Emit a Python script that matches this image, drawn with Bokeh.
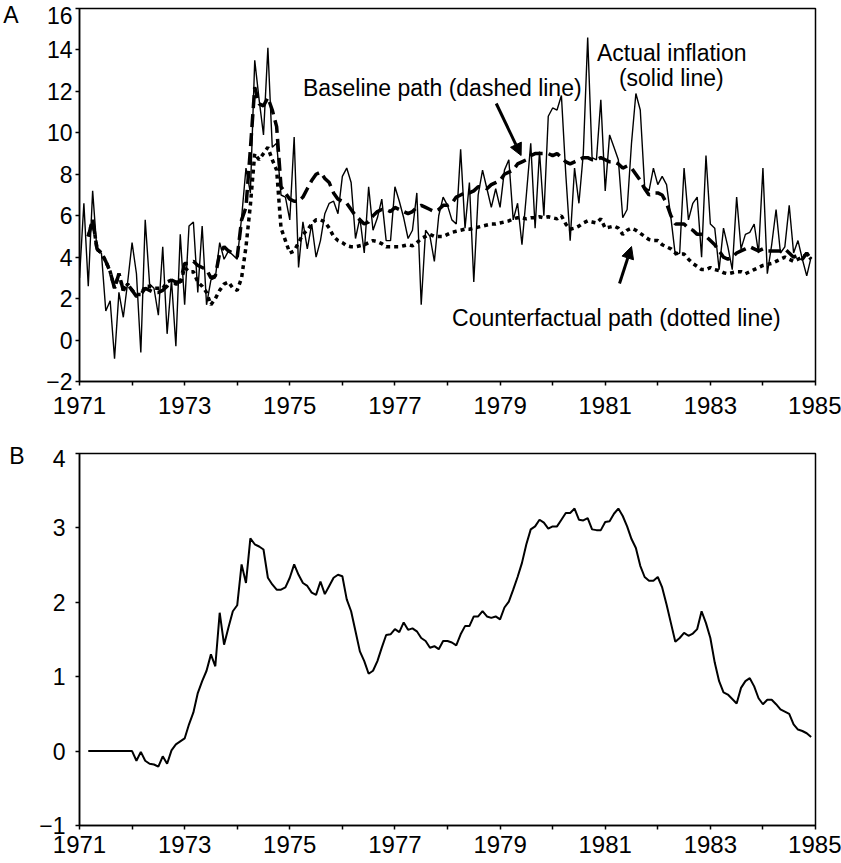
import numpy as np
from bokeh.plotting import figure
from bokeh.layouts import column
from bokeh.models import FixedTicker, Label, Arrow, NormalHead, Range1d, LinearAxis
from bokeh.embed import file_html
from bokeh.resources import INLINE

# ---------------- data (monthly, Jan 1971 - Dec 1984) ----------------
start_year = 1971
actual = [
    3.0, 6.6, 2.6, 7.2, 4.3, 4.2, 1.4, 1.9, -0.9, 2.3, 1.1, 2.8,
    4.7, 3.2, -0.6, 5.8, 2.7, 2.5, 1.2, 4.5, 0.3, 2.9, -0.3, 5.1,
    1.7, 5.5, 5.7, 2.3, 5.5, 1.7, 2.9, 3.0, 4.7, 3.9, 4.3, 4.1,
    3.9, 5.9, 8.3, 7.1, 13.5, 11.6, 9.9, 14.1, 9.3, 9.5, 7.0, 6.9,
    5.8, 9.8, 3.5, 5.7, 4.4, 5.6, 4.0, 4.8, 6.1, 6.6, 6.7, 6.1,
    7.9, 8.3, 7.6, 4.9, 5.9, 4.2, 7.4, 5.3, 5.9, 6.8, 4.8, 4.8,
    7.4, 6.7, 5.9, 4.9, 5.3, 7.1, 1.7, 5.3, 5.0, 3.8, 6.0, 6.9,
    6.5, 5.8, 5.6, 9.2, 5.4, 7.6, 2.8, 7.0, 8.2, 7.3, 6.4, 7.3,
    6.4, 8.2, 8.7, 5.8, 6.6, 4.6, 7.0, 9.5, 5.4, 9.1, 6.0, 10.8,
    11.2, 11.1, 11.8, 8.0, 4.8, 8.3, 6.6, 9.0, 14.6, 8.8, 8.7, 11.6,
    7.2, 9.9, 9.3, 8.7, 5.9, 6.3, 9.5, 11.9, 11.1, 7.4, 7.2, 8.3,
    7.5, 7.9, 7.5, 5.9, 4.1, 4.2, 8.3, 5.8, 6.6, 6.9, 4.0, 8.9,
    5.6, 5.4, 3.4, 5.4, 4.5, 3.4, 6.9, 4.4, 5.1, 5.2, 5.6, 4.2,
    8.3, 3.2, 4.6, 6.3, 4.2, 4.5, 6.5, 4.2, 4.8, 3.9, 3.1, 4.0,
]

# simulated paths start in March 1971 (month index 2)
sim_start = 2
baseline = [
    5.0, 5.8, 4.4, 4.2, 3.8, 3.3, 2.5, 3.2, 2.4, 2.7,
    2.4, 2.1, 2.2, 2.5, 2.4, 2.3, 2.3, 2.4, 2.6, 2.9, 2.8, 2.8,
    3.7, 3.7, 3.8, 3.6, 3.5, 3.4, 3.0, 3.1, 4.2, 4.5, 4.3, 4.2,
    4.0, 5.8, 6.4, 9.2, 12.2, 11.4, 11.3, 11.7, 11.1, 10.3, 7.4, 7.1,
    6.8, 6.7, 6.7, 6.9, 7.3, 7.7, 8.0, 8.1, 7.8, 7.6, 7.1, 6.8,
    6.7, 6.6, 6.3, 6.0, 5.8, 5.6, 5.7, 6.0, 6.2, 6.3, 6.3, 6.2,
    6.4, 6.3, 6.2, 6.1, 6.2, 6.4, 6.5, 6.4, 6.3, 6.2, 6.3, 6.5,
    6.5, 6.6, 6.9, 7.0, 7.1, 7.1, 7.2, 7.4, 7.4, 7.3, 7.5, 7.6,
    7.7, 8.0, 8.1, 8.2, 8.5, 8.6, 8.7, 8.9, 9.0, 9.0, 9.0, 9.0,
    8.9, 9.0, 8.8, 8.6, 8.5, 8.6, 8.7, 8.8, 8.8, 8.7, 8.7, 8.8,
    8.7, 8.6, 8.6, 8.5, 8.3, 8.4, 8.3, 8.0, 7.7, 7.3, 7.0, 7.1,
    7.1, 7.0, 6.6, 6.0, 5.6, 5.6, 5.6, 5.4, 5.3, 5.1, 5.1, 5.0,
    4.8, 4.6, 4.3, 4.0, 3.9, 4.0, 4.2, 4.3, 4.4, 4.5, 4.4, 4.3,
    4.4, 4.3, 4.3, 4.3, 4.3, 4.4, 4.2, 4.0, 4.1, 3.9, 4.2, 3.9,
]
counterfactual = [
    5.0, 5.8, 4.4, 4.2, 3.8, 3.3, 2.5, 3.2, 2.4, 2.7,
    2.4, 2.2, 2.2, 2.6, 2.6, 2.5, 2.5, 2.5, 2.8, 2.9, 2.7, 2.7,
    3.5, 3.3, 3.3, 2.8, 2.6, 2.3, 1.7, 2.0, 2.4, 2.7, 2.8, 2.5,
    2.4, 3.0, 4.5, 6.5, 9.0, 8.7, 9.0, 9.3, 8.7, 8.2, 5.4, 4.8,
    4.2, 4.3, 4.7, 5.1, 5.3, 5.6, 5.8, 5.8, 5.7, 5.4, 5.0, 4.8,
    4.7, 4.55, 4.5, 4.5, 4.55, 4.6, 4.7, 4.8, 4.75, 4.65, 4.5, 4.5,
    4.5, 4.5, 4.55, 4.6, 4.55, 4.7, 4.9, 5.0, 5.1, 5.0, 5.0, 5.0,
    5.1, 5.2, 5.25, 5.3, 5.35, 5.35, 5.4, 5.45, 5.5, 5.55, 5.6, 5.6,
    5.65, 5.7, 5.75, 5.85, 5.9, 5.9, 5.85, 5.9, 5.9, 5.95, 5.9, 5.95,
    5.9, 5.85, 6.0, 5.6, 5.35, 5.4, 5.5, 5.65, 5.75, 5.7, 5.65, 5.85,
    5.4, 5.45, 5.5, 5.4, 5.1, 5.3, 5.4, 5.3, 5.15, 5.0, 4.85, 4.8,
    4.8, 4.6, 4.5, 4.4, 4.2, 4.15, 4.15, 3.9, 3.7, 3.55, 3.4, 3.4,
    3.5, 3.4, 3.35, 3.25, 3.2, 3.25, 3.3, 3.3, 3.2, 3.3, 3.4, 3.5,
    3.6, 3.65, 3.7, 3.8, 3.9, 4.0, 3.9, 3.8, 3.9, 4.0, 4.15, 3.9,
]
difference = [
    0, 0, 0, 0, 0, 0, 0, 0, 0, 0,
    0, -0.13, -0.01, -0.13, -0.17, -0.18, -0.21, -0.07, -0.17, 0.01, 0.09, 0.13,
    0.17, 0.36, 0.52, 0.78, 0.94, 1.08, 1.30, 1.14, 1.86, 1.43, 1.66, 1.88,
    1.96, 2.51, 2.26, 2.86, 2.78, 2.75, 2.71, 2.33, 2.24, 2.17, 2.17, 2.20,
    2.33, 2.51, 2.37, 2.26, 2.22, 2.13, 2.10, 2.28, 2.11, 2.22, 2.33, 2.37,
    2.35, 2.04, 1.88, 1.61, 1.34, 1.21, 1.04, 1.08, 1.21, 1.39, 1.56, 1.57,
    1.64, 1.60, 1.73, 1.63, 1.65, 1.61, 1.52, 1.48, 1.39, 1.41, 1.37, 1.48,
    1.48, 1.46, 1.42, 1.57, 1.68, 1.68, 1.81, 1.81, 1.88, 1.81, 1.79, 1.81,
    1.77, 1.93, 2.01, 2.17, 2.34, 2.53, 2.78, 2.98, 3.02, 3.11, 3.07, 2.99,
    3.02, 3.02, 3.11, 3.20, 3.20, 3.26, 3.11, 3.10, 3.13, 2.98, 2.97, 2.97,
    3.08, 3.09, 3.19, 3.26, 3.16, 3.02, 2.85, 2.73, 2.49, 2.34, 2.29, 2.29,
    2.34, 2.20, 1.97, 1.72, 1.47, 1.52, 1.59, 1.55, 1.58, 1.64, 1.88, 1.72,
    1.52, 1.19, 0.94, 0.79, 0.76, 0.70, 0.64, 0.85, 0.94, 0.98, 0.87, 0.71,
    0.63, 0.69, 0.69, 0.63, 0.56, 0.53, 0.50, 0.36, 0.29, 0.27, 0.24, 0.19,
]

x_ticks = list(range(1971, 1986))
x_tick_labels = {y: (str(y) if y % 2 == 1 else "") for y in x_ticks}
ya_ticks = list(range(-2, 17, 2))
yb_ticks = list(range(-1, 5))

# --------------------------------------------------------------------
x_act = start_year + np.arange(len(actual)) / 12.0
x_sim = start_year + (sim_start + np.arange(len(baseline))) / 12.0

FONT = "Liberation Sans"


def fmt(v):
    return ("\u2212" + str(-v)) if v < 0 else str(v)


def style(p, yticks, x_standoff):
    p.xgrid.visible = False
    p.ygrid.visible = False
    p.outline_line_color = "black"
    p.outline_line_width = 1.5
    p.background_fill_color = "white"
    p.border_fill_color = "white"
    p.xaxis.ticker = FixedTicker(ticks=x_ticks)
    p.xaxis.major_label_overrides = x_tick_labels
    p.yaxis.ticker = FixedTicker(ticks=yticks)
    # tick marks only on the main y axis; the numbers come from a label axis
    p.yaxis.major_label_overrides = {v: "" for v in yticks}
    p.yaxis.major_label_standoff = 0
    for ax in (p.xaxis[0], p.yaxis[0]):
        ax.axis_line_width = 1.5
        ax.axis_line_color = "black"
        ax.major_tick_line_width = 1.5
        ax.major_tick_line_color = "black"
        ax.major_tick_in = 0
        ax.major_tick_out = 4
        ax.minor_tick_line_color = None
        ax.major_label_text_font = FONT
        ax.major_label_text_color = "black"
    p.xaxis.major_label_text_font_size = "24px"
    p.xaxis.major_label_standoff = x_standoff


def label_axis(p, ticks, labels, standoff, size):
    ax = LinearAxis(ticker=FixedTicker(ticks=ticks), major_label_overrides=labels,
                    axis_line_color=None, major_tick_line_color=None,
                    minor_tick_line_color=None, major_tick_in=0, major_tick_out=0,
                    major_label_standoff=standoff, major_label_text_font=FONT,
                    major_label_text_font_size=size, major_label_text_color="black")
    p.add_layout(ax, "left")


def lab(p, x, y, text, size="23px", align="left"):
    p.add_layout(Label(x=x, y=y, text=text, text_font=FONT, text_font_size=size,
                       text_align=align, text_baseline="alphabetic", text_color="black"))


# ---------------- Panel A ----------------
pA = figure(width=841, height=423, x_range=Range1d(1971, 1985), y_range=Range1d(-2, 16),
            output_backend="svg", toolbar_location=None,
            min_border_left=77, min_border_right=24, min_border_top=8, min_border_bottom=42)
style(pA, ya_ticks, 11)
top_a = 15.686  # the top value label sits just below the frame corner
ya_pos = [v for v in ya_ticks if v != 16] + [top_a]
ya_text = {v: fmt(v) for v in ya_ticks if v != 16}
ya_text[top_a] = "16"
label_axis(pA, ya_pos, ya_text, 3, "23px")
label_axis(pA, [top_a + 0.15], {top_a + 0.15: "A"}, 25, "23px")

pA.line(x_act, actual, line_color="black", line_width=1.4)
pA.line(x_sim, counterfactual, line_color="black", line_width=3.5, line_dash="4 4")
pA.line(x_sim, baseline, line_color="black", line_width=3.5, line_dash="13 6")

lab(pA, 1975.249, 12.173, "Baseline path (dashed line)")
lab(pA, 1982.266, 13.847, "Actual inflation", align="center")
lab(pA, 1982.257, 12.622, "(solid line)", align="center")
lab(pA, 1978.087, 1.068, "Counterfactual path (dotted line)")

pA.add_layout(Arrow(end=NormalHead(size=12, fill_color="black", line_color="black"),
                    x_start=1978.927, y_start=11.415, x_end=1979.40, y_end=8.905,
                    line_width=3, line_color="black"))
pA.add_layout(Arrow(end=NormalHead(size=12, fill_color="black", line_color="black"),
                    x_start=1981.272, y_start=2.728, x_end=1981.50, y_end=4.513,
                    line_width=3, line_color="black"))

# ---------------- Panel B ----------------
pB = figure(width=841, height=440, x_range=Range1d(1971, 1985), y_range=Range1d(-1, 4),
            output_backend="svg", toolbar_location=None,
            min_border_left=76, min_border_right=26, min_border_top=30, min_border_bottom=38)
style(pB, yb_ticks, 6)
top_b = 3.933
yb_pos = [v for v in yb_ticks if v != 4] + [top_b]
yb_text = {v: fmt(v) for v in yb_ticks if v != 4}
yb_text[top_b] = "4"
label_axis(pB, yb_pos, yb_text, 10, "23px")
label_axis(pB, [top_b + 0.04], {top_b + 0.04: "B"}, 12, "23px")

pB.line(x_sim, difference, line_color="black", line_width=2)

layout = column(pA, pB)
open("out.html", "w").write(file_html(layout, INLINE))
